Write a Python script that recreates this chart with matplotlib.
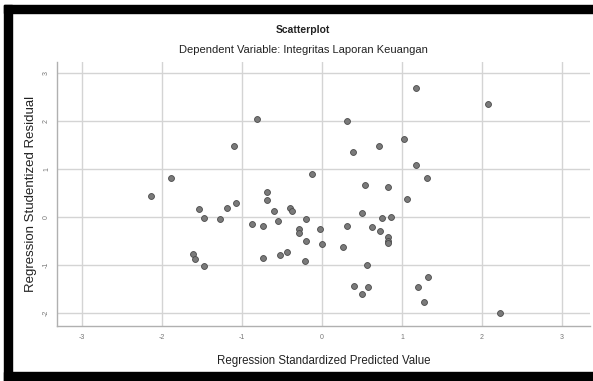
import numpy as np
import matplotlib
matplotlib.use("Agg")
import matplotlib.pyplot as plt
from matplotlib.patches import Rectangle

# standardized predicted value (x) and studentized residual (y)
pred = [-2.14, -1.89, -0.81, -1.10, -1.53, -1.475, -1.275, -1.19, -1.07, -1.61,
        -1.58, -1.475, -0.875, -0.74, -0.69, -0.69, -0.60, -0.55, -0.40, -0.37,
        -0.74, -0.525, -0.44, -0.29, -0.29, -0.20, -0.20, -0.21, -0.025, 0.0,
        -0.125, 0.31, 0.39, 0.71, 1.03, 1.17, 1.31, 1.18, 2.08, 0.54,
        0.83, 1.06, 0.50, 0.75, 0.86, 0.31, 0.625, 0.725, 0.83, 0.83,
        0.83, 0.26, 0.56, 1.32, 0.40, 0.58, 0.50, 1.20, 1.27, 2.23]
resid = [0.44, 0.82, 2.04, 1.49, 0.17, -0.01, -0.04, 0.18, 0.29, -0.78,
         -0.88, -1.03, -0.15, -0.19, 0.53, 0.35, 0.125, -0.08, 0.19, 0.125,
         -0.85, -0.80, -0.72, -0.24, -0.33, -0.05, -0.50, -0.91, -0.24, -0.56,
         0.90, 2.01, 1.35, 1.49, 1.62, 1.08, 0.81, 2.69, 2.35, 0.67,
         0.62, 0.37, 0.08, -0.01, 0.01, -0.18, -0.20, -0.29, -0.41, -0.50,
         -0.55, -0.62, -0.99, -1.24, -1.43, -1.45, -1.60, -1.45, -1.77, -1.99]

xticks = [-3, -2, -1, 0, 1, 2, 3]
yticks = [-2, -1, 0, 1, 2, 3]

title = "Scatterplot"
subtitle = "Dependent Variable: Integritas Laporan Keuangan"
xlabel = "Regression Standardized Predicted Value"
ylabel = "Regression Studentized Residual"

plt.rcParams['font.family'] = ['Liberation Sans', 'DejaVu Sans']

W, H = 593, 381
fig = plt.figure(figsize=(W / 100, H / 100), dpi=100)
fig.patch.set_facecolor('white')

# black frame around the picture (as in the screenshot)
def px_rect(x0, y0, x1, y1):
    fig.patches.append(Rectangle((x0 / W, 1 - y1 / H), (x1 - x0) / W, (y1 - y0) / H,
                                 transform=fig.transFigure, color='black', zorder=0))

px_rect(4, 5, W, 13)
px_rect(4, 5, 12, H)
px_rect(4, 372, W, H)

ax = fig.add_axes([57 / W, 1 - 326 / H, (590 - 57) / W, (326 - 62) / H])
ax.set_xlim(-3.31, 3.35)
ax.set_ylim(-2.27, 3.23)

ax.set_xticks(xticks)
ax.set_yticks(yticks)
ax.set_xticklabels([str(t) for t in xticks])
ax.set_yticklabels([str(t) for t in yticks], rotation=90, va='center')
ax.tick_params(length=0, labelsize=5, colors='#777777', pad=6)
ax.tick_params(axis='y', pad=5)

ax.grid(True, color='#d4d4d4', linewidth=1.0)
ax.set_axisbelow(True)
for side in ['top', 'right']:
    ax.spines[side].set_visible(False)
for side in ['left', 'bottom']:
    ax.spines[side].set_color('#b0b0b0')
    ax.spines[side].set_linewidth(1.0)

ax.scatter(pred, resid, s=18, facecolor='#7a7a7a', edgecolor='#4a4a4a',
           linewidths=0.6, zorder=3)

ax.set_xlabel(xlabel, fontsize=8.3, color='#222222', labelpad=10)
ax.set_ylabel(ylabel, fontsize=9.5, color='#222222', labelpad=4)

fig.text(303 / W, 1 - 30 / H, title, ha='center', va='center', fontsize=7.5,
         fontweight='bold', color='#222222')
fig.text(303 / W, 1 - 50 / H, subtitle, ha='center', va='center', fontsize=8,
         color='#222222')

fig.savefig("out.png", dpi=100)
